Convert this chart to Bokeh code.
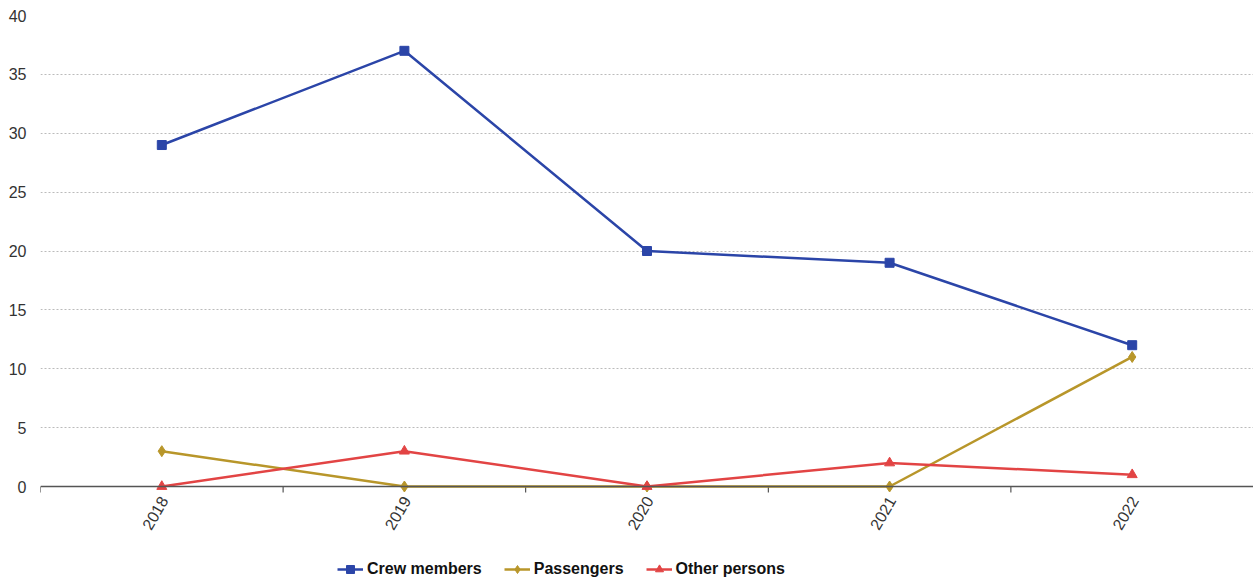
import math
from bokeh.plotting import figure
from bokeh.models import Range1d, FixedTicker, Legend, LegendItem, Span
from bokeh.core.properties import value
from bokeh.embed import file_html
from bokeh.resources import INLINE

years = ["2018", "2019", "2020", "2021", "2022"]
crew = [29, 37, 20, 19, 12]
passengers = [3, 0, 0, 0, 11]
others = [0, 3, 0, 2, 1]
y_ticks = [0, 5, 10, 15, 20, 25, 30, 35, 40]

W, H = 1253, 581
TOP, BOTTOM_SPACE, LEFT = 15, 95, 40
ymax = 40
plot_px = H - TOP - BOTTOM_SPACE
ymin = -ymax * BOTTOM_SPACE / plot_px
unit_px = plot_px / ymax

xs = [i + 0.5 for i in range(len(years))]
bounds = list(range(len(years) + 1))

p = figure(width=W, height=H, output_backend="svg", toolbar_location=None,
           x_range=Range1d(0, len(years)), y_range=Range1d(ymin, ymax),
           min_border_left=LEFT, min_border_right=0, min_border_top=TOP,
           min_border_bottom=0)
p.outline_line_color = None
p.background_fill_color = "white"
p.xaxis.visible = False

blue = "#2B45A8"
gold = "#B8962A"
red = "#E24444"

p.xgrid.grid_line_color = None
p.ygrid.ticker = FixedTicker(ticks=y_ticks[1:])
p.ygrid.grid_line_color = "#bbbbbb"
p.ygrid.grid_line_dash = "2 2"
p.ygrid.grid_line_width = 1

# x axis line, ticks and labels
p.add_layout(Span(location=0, dimension="width", line_color="#555555", line_width=1.5))
p.segment(x0=bounds, x1=bounds, y0=[0] * len(bounds), y1=[-6 / unit_px] * len(bounds),
          line_color="#333333", line_width=1)
p.text(x=xs, y=[0] * len(xs), text=years, angle=math.radians(60),
       text_align="right", text_baseline="middle", x_offset=2, y_offset=11,
       text_font=value("Liberation Sans"), text_font_size="16px", text_color="#333333")

r1l = p.line(xs, crew, line_color=blue, line_width=2.5)
r1m = p.scatter(xs, crew, marker="square", size=9, fill_color=blue, line_color=blue)
r2l = p.line(xs, passengers, line_color=gold, line_width=2.5)
r2m = p.scatter(xs, passengers, marker="diamond", size=11, fill_color=gold, line_color=gold)
r3l = p.line(xs, others, line_color=red, line_width=2.5)
r3m = p.scatter(xs, others, marker="triangle", size=10, fill_color=red, line_color=red)

ya = p.yaxis[0]
ya.ticker = FixedTicker(ticks=y_ticks)
ya.axis_line_color = None
ya.major_tick_line_color = None
ya.minor_tick_line_color = None
ya.major_label_text_font = "Liberation Sans"
ya.major_label_text_font_size = "16px"
ya.major_label_text_color = "#333333"
ya.major_label_standoff = 8

legend = Legend(items=[
    LegendItem(label="Crew members", renderers=[r1l, r1m]),
    LegendItem(label="Passengers", renderers=[r2l, r2m]),
    LegendItem(label="Other persons", renderers=[r3l, r3m]),
], orientation="horizontal", location=(297, 2))
legend.label_text_font = "Liberation Sans"
legend.label_text_font_size = "16px"
legend.label_text_font_style = "bold"
legend.label_text_color = "#111111"
legend.border_line_color = None
legend.background_fill_alpha = 0
legend.glyph_width = 26
legend.label_standoff = 4
legend.spacing = 22
legend.padding = 4
legend.margin = 0
p.add_layout(legend, "center")

open("out.html", "w").write(file_html(p, INLINE))
